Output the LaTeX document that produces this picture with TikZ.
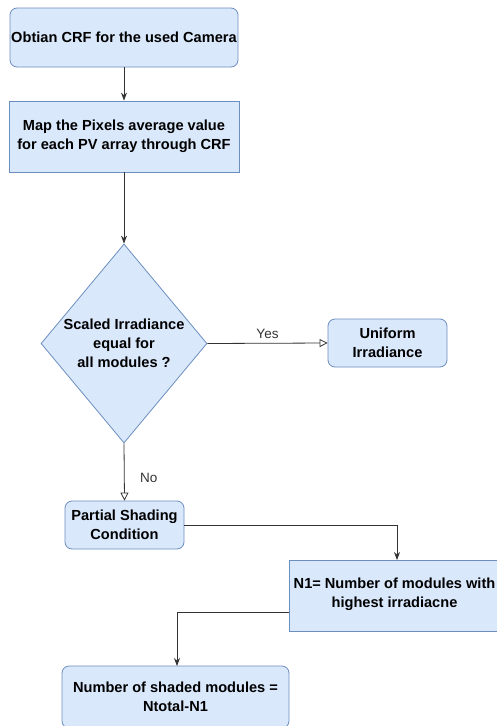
\documentclass[tikz,border=0pt]{standalone}
\usepackage{fontspec}
\setmainfont{Liberation Sans}
\usetikzlibrary{arrows.meta,shapes.geometric}
\definecolor{boxfill}{HTML}{DAE8FC}
\definecolor{boxline}{HTML}{6C8EBF}
\definecolor{linec}{HTML}{333333}
\tikzset{
  txt/.style={font=\fontsize{14.6}{19}\selectfont\bfseries, align=center},
  base/.style={draw=boxline, fill=boxfill, line width=0.8pt, txt, inner sep=0pt},
  rbox/.style={base, rounded corners=7pt},
  sbox/.style={base},
  decision/.style={base, diamond, aspect=0.83},
  flow/.style={draw=linec, line width=0.8pt, -{Stealth[length=8pt,width=6pt]}},
  openflow/.style={draw=linec, line width=0.8pt, -{Triangle[open,length=8pt,width=8pt]}},
  lbl/.style={font=\fontsize{13.5}{16}\selectfont, text=linec}
}
\begin{document}
\begin{tikzpicture}[x=1pt,y=-1pt]
\useasboundingbox (0,0) rectangle (496,726);
\node[rbox, minimum width=228pt, minimum height=59pt] (crf) at (124,37.5) {Obtian CRF for the used Camera};
\node[sbox, minimum width=230pt, minimum height=71pt] (map) at (124,136.5) {Map the Pixels average value\\for each PV array through CRF};
\node[decision, minimum width=166pt, minimum height=199pt] (dec) at (124,343.5) {};
\node[txt] (dectext) at (124,343) {Scaled Irradiance\\equal for\\all modules ?};
\node[rbox, minimum width=119pt, minimum height=48pt] (uni) at (387.5,343) {Uniform\\Irradiance};
\node[rbox, minimum width=119pt, minimum height=48pt] (psc) at (124.5,525) {Partial Shading\\Condition};
\node[sbox, minimum width=230pt, minimum height=71pt, anchor=west] (n1) at (289,595.5) {};
\node[txt] (n1text) at (394.5,594) {N1= Number of modules with\\highest irradiacne};
\node[rbox, minimum width=227pt, minimum height=62pt] (ns) at (175.5,697) {Number of shaded modules =\\Ntotal-N1};
\draw[flow] (crf) -- (map);
\draw[flow] (map) -- (dec.north);
\draw[openflow] (dec.east) -- node[lbl, above, pos=0.5, yshift=1pt] {Yes} (uni.west);
\draw[openflow] (dec.south) -- node[lbl, right, pos=0.6, xshift=12pt] {No} (psc.north);
\coordinate (c1) at (397,525);
\draw[flow] (psc.east) -- (c1) -- (397,560);
\coordinate (c2) at (177,612);
\draw[flow] (289,612) -- (c2) -- (177,666);
\end{tikzpicture}
\end{document}
